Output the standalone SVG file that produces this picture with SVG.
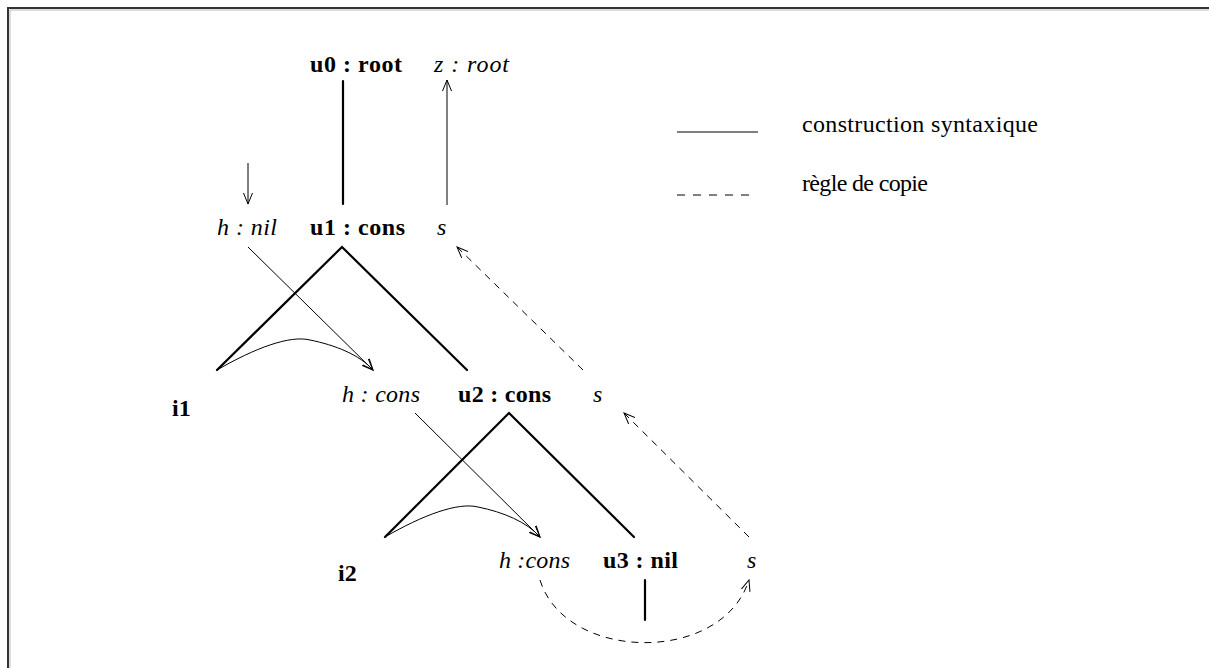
<svg xmlns="http://www.w3.org/2000/svg" width="1209" height="668" viewBox="0 0 1209 668">
<style>
text{font-family:"Liberation Serif","Times New Roman",serif;font-size:24px;fill:#000}
.b{font-weight:bold}
.i{font-style:italic}
.leg{font-size:24px}
.thick{stroke:#000;stroke-width:2.2;fill:none;stroke-linecap:round}
.thin{stroke:#000;stroke-width:1;fill:none}
.dash{stroke:#000;stroke-width:1;fill:none;stroke-dasharray:7 6}
</style>
<defs>
<marker id="arr" viewBox="0 0 12 10" refX="11" refY="5" markerWidth="12" markerHeight="10" markerUnits="userSpaceOnUse" orient="auto">
<path d="M0,0.5 L11,5 L0,9.5" fill="none" stroke="#000" stroke-width="1"/>
</marker>
</defs>
<rect width="1209" height="668" fill="#fff"/>
<g id="frame">
<path d="M10,1209 L10,10 L1300,10" fill="none" stroke="#bbb" stroke-width="1"/>
<path d="M8,1209 L8,8 L1300,8" fill="none" stroke="#333" stroke-width="2"/>
</g>
<g id="connectors">
<line class="thick" x1="343" y1="81" x2="343" y2="204"/>
<line class="thin" x1="447" y1="205" x2="447" y2="80" marker-end="url(#arr)"/>
<line class="thin" x1="248" y1="163" x2="248" y2="204" marker-end="url(#arr)"/>
<polyline class="thick" points="217,370 342,247 467,370"/>
<line class="thin" x1="248" y1="247" x2="373" y2="370" marker-end="url(#arr)"/>
<path class="thin" d="M217,370 C255,348 290,335 310,340 C335,345 360,355 373,370" marker-end="url(#arr)"/>
<line class="dash" x1="583" y1="370" x2="457" y2="247" marker-end="url(#arr)"/>
<polyline class="thick" points="385,537 509,413 634,537"/>
<line class="thin" x1="415" y1="413" x2="540" y2="537" marker-end="url(#arr)"/>
<path class="thin" d="M385,537 C423,515 458,502 478,507 C503,512 527,522 540,537" marker-end="url(#arr)"/>
<line class="dash" x1="749" y1="537" x2="624" y2="413" marker-end="url(#arr)"/>
<line class="thick" x1="645" y1="580" x2="645" y2="620"/>
<path class="dash" d="M540,580 C565,662 722,665 749,580" marker-end="url(#arr)"/>
</g>
<g id="legend">
<line x1="677" y1="132" x2="758" y2="132" stroke="#000" stroke-width="1.2"/>
<line x1="677" y1="195" x2="752" y2="195" stroke="#000" stroke-width="1" stroke-dasharray="8 8"/>
<text class="leg" x="802" y="132" textLength="236" lengthAdjust="spacing">construction syntaxique</text>
<text class="leg" x="802" y="191" textLength="126" lengthAdjust="spacing">règle de copie</text>
</g>
<g id="u0"><text class="b" x="310" y="72" textLength="92" lengthAdjust="spacing">u0 : root</text></g>
<g id="z"><text class="i" x="434" y="72" textLength="75" lengthAdjust="spacing">z : root</text></g>
<g id="h1"><text class="i" x="217" y="235" textLength="60" lengthAdjust="spacing">h : nil</text></g>
<g id="u1"><text class="b" x="310" y="235" textLength="95" lengthAdjust="spacing">u1 : cons</text></g>
<g id="s1"><text class="i" x="437" y="235">s</text></g>
<g id="i1"><text class="b" x="172" y="416">i1</text></g>
<g id="h2"><text class="i" x="342" y="402" textLength="78" lengthAdjust="spacing">h : cons</text></g>
<g id="u2"><text class="b" x="458" y="402" textLength="93" lengthAdjust="spacing">u2 : cons</text></g>
<g id="s2"><text class="i" x="593" y="402">s</text></g>
<g id="i2"><text class="b" x="338" y="581">i2</text></g>
<g id="h3"><text class="i" x="499" y="568" textLength="71" lengthAdjust="spacing">h :cons</text></g>
<g id="u3"><text class="b" x="603" y="568" textLength="75" lengthAdjust="spacing">u3 : nil</text></g>
<g id="s3"><text class="i" x="747" y="568">s</text></g>
</svg>
